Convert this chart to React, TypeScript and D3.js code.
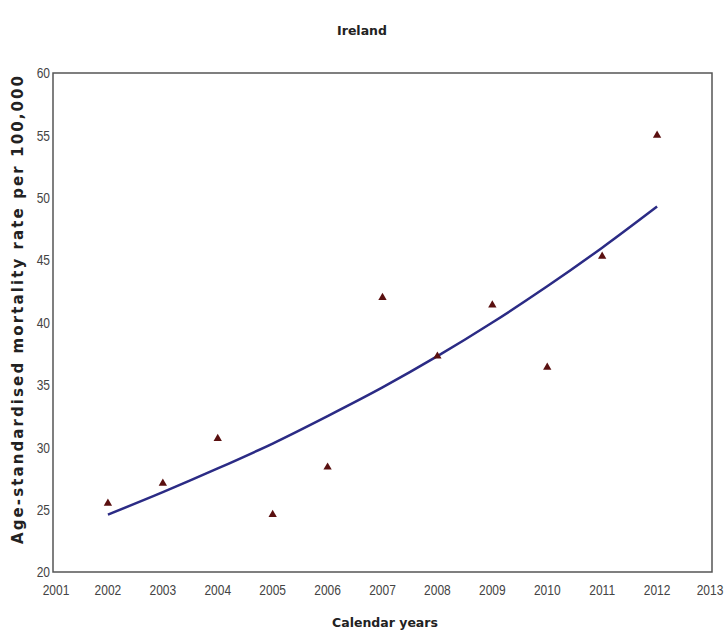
import React from "react";
import * as d3 from "d3";

const years = [2002, 2003, 2004, 2005, 2006, 2007, 2008, 2009, 2010, 2011, 2012];
const observedRates = [25.5, 27.1, 30.7, 24.6, 28.4, 42.0, 37.3, 41.4, 36.4, 45.3, 55.0];
const trendRates = [24.6, 26.4, 28.3, 30.3, 32.5, 34.8, 37.3, 40.0, 42.9, 46.0, 49.3];
const xTicks = [2001, 2002, 2003, 2004, 2005, 2006, 2007, 2008, 2009, 2010, 2011, 2012, 2013];
const yTicks = [20, 25, 30, 35, 40, 45, 50, 55, 60];

const W = 727;
const H = 635;
const left = 53;
const right = 712;
const top = 73;
const bottom = 572;

export default function App() {
  const x = d3.scaleLinear().domain([2001, 2013]).range([left, right]);
  const y = d3.scaleLinear().domain([20, 60]).range([bottom, top]);

  const line = d3
    .line<number>()
    .x((_, i) => x(years[i]))
    .y((d) => y(d))
    .curve(d3.curveMonotoneX);

  const tri = d3.symbol().type(d3.symbolTriangle).size(30)() as string;

  const tickFont = "'Liberation Sans', Arial, sans-serif";
  const boldFont = "'DejaVu Sans', Verdana, sans-serif";
  const narrow = 0.8;

  return (
    <svg
      width={W}
      height={H}
      style={{ position: "absolute", left: 0, top: 0, background: "#fff" }}
    >
      <text
        x={362}
        y={35}
        textAnchor="middle"
        fontFamily={boldFont}
        fontWeight="bold"
        fontSize={12.5}
        fill="#222"
      >
        Ireland
      </text>

      <rect
        x={left}
        y={top}
        width={right - left}
        height={bottom - top}
        fill="none"
        stroke="#555"
        strokeWidth={1.5}
      />

      {yTicks.map((t) => (
        <text
          key={"y" + t}
          transform={`translate(${left - 3},${y(t)}) scale(${narrow},1)`}
          dy="0.35em"
          textAnchor="end"
          fontFamily={tickFont}
          fontSize={15}
          fill="#444"
        >
          {t}
        </text>
      ))}

      {xTicks.map((t) => (
        <text
          key={"x" + t}
          transform={`translate(${x(t) + (t === 2001 ? 3 : t === 2013 ? -2 : 0)},590) scale(${narrow},1)`}
          dy="0.35em"
          textAnchor="middle"
          fontFamily={tickFont}
          fontSize={15}
          fill="#444"
        >
          {t}
        </text>
      ))}

      <path
        d={line(trendRates) || ""}
        fill="none"
        stroke="#2b2b85"
        strokeWidth={2.5}
      />

      {observedRates.map((v, i) => (
        <path
          key={"p" + i}
          d={tri}
          transform={`translate(${x(years[i])},${y(v)})`}
          fill="#5a1010"
        />
      ))}

      <text
        x={385}
        y={627}
        textAnchor="middle"
        fontFamily={boldFont}
        fontWeight="bold"
        fontSize={12.5}
        fill="#222"
      >
        Calendar years
      </text>

      <text
        transform={`translate(23, 310) rotate(-90)`}
        textAnchor="middle"
        fontFamily={boldFont}
        fontWeight="bold"
        fontSize={15}
        textLength={468}
        lengthAdjust="spacing"
        fill="#222"
      >
        Age-standardised mortality rate per 100,000
      </text>
    </svg>
  );
}
